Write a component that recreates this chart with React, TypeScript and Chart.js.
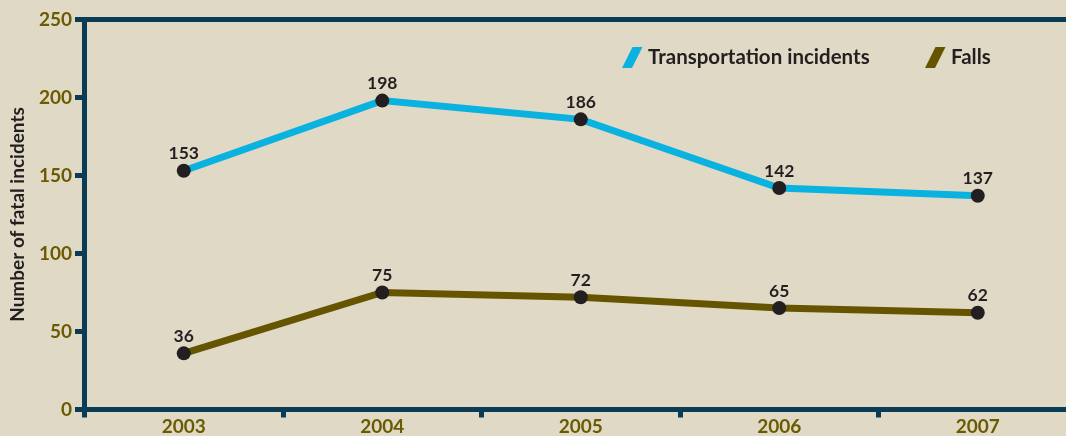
import React, { useEffect, useRef } from "react";
import { Chart, registerables } from "chart.js";

Chart.register(...registerables);

const years = ["2003", "2004", "2005", "2006", "2007"];
const transportation = [153, 198, 186, 142, 137];
const falls = [36, 75, 72, 65, 62];
const seriesLabels = ["Transportation incidents", "Falls"];
const yTitle = "Number of fatal incidents";
const yMin = 0;
const yMax = 250;
const yStep = 50;

const BG = "#e0d9c6";
const AXIS = "#0b3c55";
const OLIVE = "#6a5a00";
const BLUE = "#0ab2e0";
const FALLS = "#665500";
const DARK = "#231f20";
const FONT = "Lato, 'Open Sans', sans-serif";

const bgPlugin = {
  id: "bg",
  beforeDraw(chart: any) {
    const { ctx, width, height } = chart;
    ctx.save();
    ctx.fillStyle = BG;
    ctx.fillRect(0, 0, width, height);
    ctx.restore();
  },
};

const topLinePlugin = {
  id: "topLine",
  beforeDatasetsDraw(chart: any) {
    const { ctx, chartArea } = chart;
    ctx.save();
    ctx.strokeStyle = AXIS;
    ctx.lineWidth = 5;
    ctx.beginPath();
    ctx.moveTo(chartArea.left - 9.5, chartArea.top);
    ctx.lineTo(chart.width, chartArea.top);
    ctx.stroke();
    ctx.restore();
  },
};

const labelPlugin = {
  id: "valueLabels",
  afterDatasetsDraw(chart: any) {
    const { ctx } = chart;
    ctx.save();
    ctx.fillStyle = DARK;
    ctx.font = `bold 17.5px ${FONT}`;
    ctx.textAlign = "center";
    ctx.textBaseline = "middle";
    chart.data.datasets.forEach((ds: any, i: number) => {
      const meta = chart.getDatasetMeta(i);
      meta.data.forEach((pt: any, j: number) => {
        ctx.fillText(String(ds.data[j]), pt.x, pt.y - 17);
      });
    });
    ctx.restore();
  },
};

const legendPlugin = {
  id: "customLegend",
  afterDraw(chart: any) {
    const { ctx } = chart;
    const items = [
      { x: 622, color: BLUE, label: seriesLabels[0] },
      { x: 925, color: FALLS, label: seriesLabels[1] },
    ];
    const cy = 57.5;
    ctx.save();
    items.forEach((it) => {
      ctx.fillStyle = it.color;
      ctx.beginPath();
      ctx.moveTo(it.x, cy + 10.5);
      ctx.lineTo(it.x + 10, cy + 10.5);
      ctx.lineTo(it.x + 20.5, cy - 10.5);
      ctx.lineTo(it.x + 10.5, cy - 10.5);
      ctx.closePath();
      ctx.fill();
      ctx.fillStyle = DARK;
      ctx.font = `bold 20.5px ${FONT}`;
      ctx.textAlign = "left";
      ctx.textBaseline = "middle";
      ctx.fillText(it.label, it.x + 26, cy);
    });
    ctx.restore();
  },
};

export default function App() {
  const ref = useRef<HTMLCanvasElement>(null);

  useEffect(() => {
    document.body.style.margin = "0";
    document.body.style.background = BG;
    if (!ref.current) return;
    const chart = new Chart(ref.current, {
      type: "line",
      data: {
        labels: years,
        datasets: [
          {
            label: seriesLabels[0],
            data: transportation,
            borderColor: BLUE,
            borderWidth: 7,
            pointRadius: 7,
            pointBackgroundColor: DARK,
            pointBorderWidth: 0,
            tension: 0,
          },
          {
            label: seriesLabels[1],
            data: falls,
            borderColor: FALLS,
            borderWidth: 7,
            pointRadius: 7,
            pointBackgroundColor: DARK,
            pointBorderWidth: 0,
            tension: 0,
          },
        ],
      },
      options: {
        responsive: false,
        animation: false,
        devicePixelRatio: 1,
        layout: { padding: { top: 19.5, right: 0, bottom: 0, left: 0 } },
        plugins: {
          legend: { display: false },
          tooltip: { enabled: false },
        },
        scales: {
          x: {
            offset: true,
            grid: {
              offset: true,
              drawOnChartArea: false,
              drawTicks: true,
              tickLength: 8,
              tickWidth: 5,
              tickColor: AXIS,
              color: AXIS,
              lineWidth: 5,
            },
            border: { display: true, color: AXIS, width: 5 },
            ticks: {
              color: OLIVE,
              font: { family: FONT, size: 19, weight: "bold" },
              padding: -2,
              maxRotation: 0,
            },
            afterFit(s: any) {
              s.height = 26.5;
            },
          },
          y: {
            min: yMin,
            max: yMax,
            grid: {
              drawOnChartArea: false,
              drawTicks: true,
              tickLength: 9.5,
              tickWidth: 5,
              tickColor: AXIS,
              color: AXIS,
              lineWidth: 5,
            },
            border: { display: true, color: AXIS, width: 5 },
            ticks: {
              stepSize: yStep,
              color: OLIVE,
              font: { family: FONT, size: 19, weight: "bold" },
              padding: 3,
            },
            title: {
              display: true,
              text: yTitle,
              color: DARK,
              font: { family: FONT, size: 19, weight: "bold" },
              padding: { top: 6, bottom: 0 },
            },
            afterFit(s: any) {
              s.width = 84.5;
            },
          },
        },
      },
      plugins: [bgPlugin, topLinePlugin, labelPlugin, legendPlugin],
    } as any);
    return () => chart.destroy();
  }, []);

  return (
    <div style={{ width: 1066, height: 436, overflow: "hidden", background: BG }}>
      <canvas ref={ref} width={1084} height={436} style={{ display: "block", width: 1084, height: 436 }} />
    </div>
  );
}
